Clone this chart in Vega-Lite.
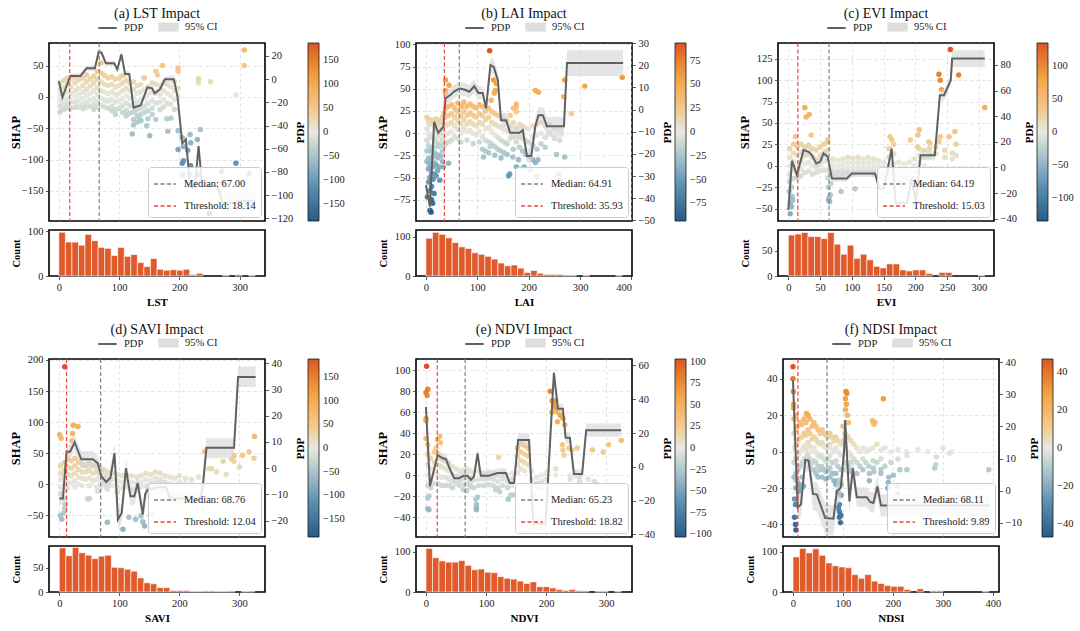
{
"$schema": "https://vega.github.io/schema/vega-lite/v6.json",
"padding": {"left": 8, "top": 6, "right": 5, "bottom": 5},
"config": {
  "font": "Liberation Serif",
  "view": {"stroke": "#000000", "strokeWidth": 1.6},
  "axis": {"labelFont": "Liberation Serif", "titleFont": "Liberation Serif", "labelFontSize": 10.5, "labelColor": "#222222", "titleFontSize": 11, "titleFontWeight": "bold", "titleColor": "#000000", "tickColor": "#333333", "tickSize": 3.5, "tickWidth": 0.8, "labelPadding": 2.5, "domain": false, "grid": false, "gridColor": "#cccccc", "gridDash": [3, 3], "gridWidth": 0.6},
  "axisY": {"minExtent": 27, "maxExtent": 27},
  "title": {"font": "Liberation Serif", "fontSize": 14, "fontWeight": "normal", "color": "#111111", "offset": -5},
  "legend": {"labelFont": "Liberation Serif", "labelFontSize": 10.5, "labelColor": "#222222", "gradientLength": 178, "gradientThickness": 11, "gradientStrokeColor": "#000000", "gradientStrokeWidth": 0.8, "layout": {"top": {"anchor": "middle"}}}
},
"datasets": {
"a_pts": [{"x":2,"s":22},{"x":2,"s":12},{"x":2,"s":4},{"x":2,"s":-6},{"x":2,"s":-15},{"x":2,"s":-24},{"x":8,"s":26},{"x":8,"s":15},{"x":8,"s":5},{"x":8,"s":-4},{"x":8,"s":-12},{"x":8,"s":-20},{"x":14,"s":30},{"x":14,"s":20},{"x":14,"s":8},{"x":14,"s":-3},{"x":14,"s":-11},{"x":14,"s":-18},{"x":20,"s":28},{"x":20,"s":16},{"x":20,"s":6},{"x":20,"s":-8},{"x":20,"s":-18},{"x":27,"s":32},{"x":27,"s":22},{"x":27,"s":10},{"x":27,"s":0},{"x":27,"s":-9},{"x":27,"s":-17},{"x":33,"s":27},{"x":33,"s":14},{"x":33,"s":4},{"x":33,"s":-6},{"x":33,"s":-16},{"x":40,"s":30},{"x":40,"s":18},{"x":40,"s":8},{"x":40,"s":-2},{"x":40,"s":-12},{"x":40,"s":-19},{"x":46,"s":35},{"x":46,"s":24},{"x":46,"s":12},{"x":46,"s":2},{"x":46,"s":-8},{"x":46,"s":-16},{"x":52,"s":29},{"x":52,"s":17},{"x":52,"s":6},{"x":52,"s":-5},{"x":52,"s":-15},{"x":58,"s":33},{"x":58,"s":22},{"x":58,"s":10},{"x":58,"s":-3},{"x":58,"s":-12},{"x":58,"s":-20},{"x":64,"s":40},{"x":64,"s":28},{"x":64,"s":15},{"x":64,"s":4},{"x":64,"s":-8},{"x":64,"s":-17},{"x":70,"s":54},{"x":70,"s":38},{"x":70,"s":24},{"x":70,"s":10},{"x":70,"s":-2},{"x":70,"s":-14},{"x":76,"s":34},{"x":76,"s":20},{"x":76,"s":8},{"x":76,"s":-6},{"x":76,"s":-16},{"x":82,"s":30},{"x":82,"s":18},{"x":82,"s":5},{"x":82,"s":-7},{"x":82,"s":-18},{"x":88,"s":32},{"x":88,"s":20},{"x":88,"s":8},{"x":88,"s":-4},{"x":88,"s":-15},{"x":88,"s":-22},{"x":94,"s":28},{"x":94,"s":15},{"x":94,"s":4},{"x":94,"s":-8},{"x":94,"s":-20},{"x":94,"s":-28},{"x":100,"s":30},{"x":100,"s":18},{"x":100,"s":6},{"x":100,"s":-6},{"x":100,"s":-18},{"x":106,"s":34},{"x":106,"s":22},{"x":106,"s":10},{"x":106,"s":-3},{"x":106,"s":-14},{"x":106,"s":-25},{"x":112,"s":26},{"x":112,"s":14},{"x":112,"s":2},{"x":112,"s":-10},{"x":112,"s":-22},{"x":112,"s":-30},{"x":118,"s":22},{"x":118,"s":10},{"x":118,"s":-2},{"x":118,"s":-14},{"x":118,"s":-26},{"x":124,"s":24},{"x":124,"s":12},{"x":124,"s":0},{"x":124,"s":-12},{"x":124,"s":-24},{"x":124,"s":-36},{"x":124,"s":-45},{"x":130,"s":18},{"x":130,"s":6},{"x":130,"s":-8},{"x":130,"s":-20},{"x":130,"s":-30},{"x":130,"s":-40},{"x":136,"s":20},{"x":136,"s":8},{"x":136,"s":-5},{"x":136,"s":-18},{"x":136,"s":-28},{"x":136,"s":-38},{"x":142,"s":30},{"x":142,"s":12},{"x":142,"s":-2},{"x":142,"s":-15},{"x":142,"s":-25},{"x":148,"s":16},{"x":148,"s":4},{"x":148,"s":-10},{"x":148,"s":-22},{"x":148,"s":-35},{"x":155,"s":22},{"x":155,"s":8},{"x":155,"s":-6},{"x":155,"s":-18},{"x":155,"s":-28},{"x":161,"s":20},{"x":161,"s":6},{"x":161,"s":-10},{"x":168,"s":18},{"x":168,"s":4},{"x":168,"s":-8},{"x":168,"s":-20},{"x":174,"s":22},{"x":174,"s":10},{"x":174,"s":-4},{"x":174,"s":-16},{"x":180,"s":20},{"x":180,"s":6},{"x":180,"s":-10},{"x":186,"s":16},{"x":186,"s":2},{"x":186,"s":-12},{"x":192,"s":24},{"x":192,"s":10},{"x":192,"s":-4},{"x":192,"s":-20},{"x":198,"s":14},{"x":198,"s":0},{"x":151,"s":-62},{"x":146,"s":-46},{"x":161,"s":-36},{"x":179,"s":-35},{"x":181,"s":-55},{"x":198,"s":-54},{"x":205,"s":-65},{"x":207,"s":-79},{"x":218,"s":-60},{"x":235,"s":-52},{"x":230,"s":-68},{"x":219,"s":-73},{"x":214,"s":-85},{"x":198,"s":-84},{"x":205,"s":-106},{"x":207,"s":-102},{"x":206,"s":-124},{"x":218,"s":-124},{"x":230,"s":-124},{"x":219,"s":-110},{"x":270,"s":-119},{"x":272,"s":-137},{"x":294,"s":-106},{"x":316,"s":-122},{"x":186,"s":-34},{"x":131,"s":-31},{"x":136,"s":-37},{"x":125,"s":-23},{"x":122,"s":-59},{"x":161,"s":41},{"x":172,"s":50},{"x":164,"s":35},{"x":198,"s":46},{"x":198,"s":41},{"x":232,"s":29},{"x":232,"s":22},{"x":252,"s":24},{"x":141,"s":30},{"x":308,"s":75},{"x":308,"s":50},{"x":294,"s":3},{"x":250,"s":-186}],
"a_pdp": [{"x":0,"p":-1.8,"lo":-4.5,"hi":1},{"x":6,"p":-15.6,"lo":-18,"hi":-13},{"x":19,"p":2.8,"lo":0.5,"hi":5},{"x":36,"p":2.8,"lo":0.5,"hi":5},{"x":46,"p":9.4,"lo":7,"hi":11.8},{"x":60,"p":9.4,"lo":7,"hi":11.8},{"x":66,"p":23.4,"lo":21,"hi":25.8},{"x":71,"p":22.9,"lo":20.5,"hi":25.3},{"x":78,"p":13.7,"lo":11.3,"hi":16},{"x":92,"p":13.7,"lo":11.3,"hi":16},{"x":97,"p":8.5,"lo":6,"hi":11},{"x":104,"p":21.4,"lo":19,"hi":23.8},{"x":110,"p":4.5,"lo":2,"hi":7},{"x":117,"p":4.5,"lo":2,"hi":7},{"x":124,"p":-24.5,"lo":-27,"hi":-22},{"x":136,"p":-22.5,"lo":-25,"hi":-20},{"x":147,"p":-7,"lo":-9.5,"hi":-4.5},{"x":155,"p":-7.9,"lo":-10.4,"hi":-5.4},{"x":159,"p":-12.2,"lo":-14.7,"hi":-9.7},{"x":168,"p":-8.7,"lo":-11.2,"hi":-6.2},{"x":176,"p":-0.1,"lo":-2.6,"hi":2.4},{"x":191,"p":-0.1,"lo":-3,"hi":3.5},{"x":197,"p":-15,"lo":-18,"hi":-12},{"x":205,"p":-55.3,"lo":-58.5,"hi":-52},{"x":211,"p":-51.9,"lo":-55,"hi":-48.5},{"x":218,"p":-92.7,"lo":-96,"hi":-89.5},{"x":226,"p":-93.5,"lo":-96.5,"hi":-90.5},{"x":232,"p":-57.6,"lo":-61,"hi":-54},{"x":238,"p":-92,"lo":-97,"hi":-85},{"x":263,"p":-92,"lo":-97,"hi":-85},{"x":272,"p":-106.8,"lo":-116,"hi":-97},{"x":294,"p":-106.8,"lo":-116,"hi":-97},{"x":298,"p":-105,"lo":-114,"hi":-97},{"x":326,"p":-105,"lo":-114,"hi":-97}],
"a_ref": [{"x":67.0,"k":"Median: 67.00"},{"x":18.14,"k":"Threshold: 18.14"}],
"a_hist": [{"b0":0,"b1":10.87,"c":98},{"b0":10.87,"b1":21.73,"c":76},{"b0":21.73,"b1":32.6,"c":76},{"b0":32.6,"b1":43.47,"c":69},{"b0":43.47,"b1":54.33,"c":93},{"b0":54.33,"b1":65.2,"c":79},{"b0":65.2,"b1":76.07,"c":64},{"b0":76.07,"b1":86.93,"c":62},{"b0":86.93,"b1":97.8,"c":46},{"b0":97.8,"b1":108.67,"c":64},{"b0":108.67,"b1":119.53,"c":44},{"b0":119.53,"b1":130.4,"c":48},{"b0":130.4,"b1":141.27,"c":30},{"b0":141.27,"b1":152.13,"c":21},{"b0":152.13,"b1":163,"c":39},{"b0":163,"b1":173.87,"c":15},{"b0":173.87,"b1":184.73,"c":13},{"b0":184.73,"b1":195.6,"c":14},{"b0":195.6,"b1":206.47,"c":13},{"b0":206.47,"b1":217.33,"c":15},{"b0":217.33,"b1":228.2,"c":3},{"b0":228.2,"b1":239.07,"c":6},{"b0":271.67,"b1":282.53,"c":2},{"b0":293.4,"b1":304.27,"c":3},{"b0":315.13,"b1":326,"c":1}],
"b_pts": [{"x":2,"s":18},{"x":2,"s":5},{"x":2,"s":-8},{"x":2,"s":-20},{"x":2,"s":-32},{"x":5,"s":14},{"x":5,"s":0},{"x":5,"s":-14},{"x":5,"s":-28},{"x":5,"s":-40},{"x":5,"s":-55},{"x":8,"s":10},{"x":8,"s":-5},{"x":8,"s":-20},{"x":8,"s":-35},{"x":8,"s":-50},{"x":8,"s":-65},{"x":11,"s":15},{"x":11,"s":-2},{"x":11,"s":-18},{"x":11,"s":-30},{"x":11,"s":-45},{"x":11,"s":-60},{"x":11,"s":-75},{"x":14,"s":12},{"x":14,"s":-4},{"x":14,"s":-16},{"x":14,"s":-26},{"x":14,"s":-38},{"x":14,"s":-52},{"x":17,"s":8},{"x":17,"s":-8},{"x":17,"s":-22},{"x":17,"s":-34},{"x":17,"s":-46},{"x":20,"s":16},{"x":20,"s":2},{"x":20,"s":-10},{"x":20,"s":-24},{"x":20,"s":-36},{"x":20,"s":-48},{"x":23,"s":10},{"x":23,"s":-4},{"x":23,"s":-15},{"x":23,"s":-28},{"x":23,"s":-42},{"x":26,"s":14},{"x":26,"s":0},{"x":26,"s":-12},{"x":26,"s":-25},{"x":26,"s":-38},{"x":29,"s":12},{"x":29,"s":-2},{"x":29,"s":-14},{"x":29,"s":-26},{"x":32,"s":18},{"x":32,"s":4},{"x":32,"s":-8},{"x":32,"s":-20},{"x":32,"s":-32},{"x":35,"s":22},{"x":35,"s":10},{"x":35,"s":-2},{"x":35,"s":-14},{"x":38,"s":28},{"x":38,"s":18},{"x":38,"s":8},{"x":38,"s":-2},{"x":38,"s":-12},{"x":44,"s":30},{"x":44,"s":20},{"x":44,"s":10},{"x":44,"s":0},{"x":44,"s":-10},{"x":50,"s":32},{"x":50,"s":22},{"x":50,"s":12},{"x":50,"s":2},{"x":50,"s":-8},{"x":56,"s":28},{"x":56,"s":18},{"x":56,"s":8},{"x":56,"s":-4},{"x":62,"s":34},{"x":62,"s":24},{"x":62,"s":14},{"x":62,"s":4},{"x":62,"s":-6},{"x":68,"s":30},{"x":68,"s":20},{"x":68,"s":10},{"x":68,"s":0},{"x":68,"s":-10},{"x":74,"s":35},{"x":74,"s":25},{"x":74,"s":15},{"x":74,"s":5},{"x":80,"s":30},{"x":80,"s":20},{"x":80,"s":10},{"x":80,"s":2},{"x":80,"s":-8},{"x":86,"s":33},{"x":86,"s":23},{"x":86,"s":13},{"x":86,"s":3},{"x":92,"s":30},{"x":92,"s":20},{"x":92,"s":10},{"x":92,"s":0},{"x":92,"s":-12},{"x":98,"s":28},{"x":98,"s":18},{"x":98,"s":8},{"x":98,"s":-2},{"x":104,"s":32},{"x":104,"s":22},{"x":104,"s":12},{"x":104,"s":2},{"x":104,"s":-10},{"x":110,"s":30},{"x":110,"s":20},{"x":110,"s":10},{"x":110,"s":-4},{"x":110,"s":-18},{"x":116,"s":25},{"x":116,"s":15},{"x":116,"s":5},{"x":116,"s":-8},{"x":116,"s":-20},{"x":122,"s":28},{"x":122,"s":18},{"x":122,"s":6},{"x":122,"s":-10},{"x":122,"s":-22},{"x":128,"s":24},{"x":128,"s":12},{"x":128,"s":2},{"x":128,"s":-12},{"x":134,"s":22},{"x":134,"s":10},{"x":134,"s":-2},{"x":134,"s":-15},{"x":134,"s":-25},{"x":140,"s":20},{"x":140,"s":8},{"x":140,"s":-5},{"x":140,"s":-18},{"x":146,"s":18},{"x":146,"s":6},{"x":146,"s":-8},{"x":146,"s":-20},{"x":146,"s":-28},{"x":152,"s":15},{"x":152,"s":4},{"x":152,"s":-10},{"x":152,"s":-22},{"x":158,"s":14},{"x":158,"s":2},{"x":158,"s":-12},{"x":158,"s":-24},{"x":164,"s":20},{"x":164,"s":8},{"x":164,"s":-6},{"x":170,"s":28},{"x":170,"s":12},{"x":170,"s":-4},{"x":170,"s":-18},{"x":176,"s":24},{"x":176,"s":6},{"x":176,"s":-10},{"x":182,"s":10},{"x":182,"s":-4},{"x":182,"s":-16},{"x":188,"s":8},{"x":188,"s":-6},{"x":188,"s":-20},{"x":194,"s":6},{"x":194,"s":-8},{"x":194,"s":-24},{"x":200,"s":5},{"x":200,"s":-10},{"x":200,"s":-26},{"x":208,"s":8},{"x":208,"s":-4},{"x":208,"s":-14},{"x":216,"s":10},{"x":216,"s":-2},{"x":216,"s":-18},{"x":224,"s":12},{"x":224,"s":0},{"x":224,"s":-12},{"x":232,"s":8},{"x":232,"s":-5},{"x":232,"s":-16},{"x":240,"s":10},{"x":240,"s":0},{"x":250,"s":6},{"x":250,"s":-6},{"x":260,"s":4},{"x":260,"s":-8},{"x":3,"s":-72},{"x":10,"s":-89},{"x":8,"s":-87},{"x":13,"s":-79},{"x":16,"s":-68},{"x":27,"s":-53},{"x":34,"s":-38},{"x":38,"s":60},{"x":38,"s":48},{"x":38,"s":45},{"x":45,"s":54},{"x":70,"s":31},{"x":124,"s":93},{"x":132,"s":60},{"x":135,"s":48},{"x":133,"s":45},{"x":127,"s":37},{"x":137,"s":56},{"x":176,"s":30},{"x":176,"s":33},{"x":213,"s":48},{"x":219,"s":46},{"x":270,"s":60},{"x":268,"s":41},{"x":283,"s":22},{"x":309,"s":53},{"x":382,"s":63},{"x":44,"s":-34},{"x":112,"s":-27},{"x":125,"s":-15},{"x":161,"s":-48},{"x":163,"s":-46},{"x":169,"s":-27},{"x":176,"s":-38},{"x":180,"s":-30},{"x":191,"s":-38},{"x":203,"s":-41},{"x":208,"s":-30},{"x":213,"s":-33},{"x":215,"s":-49},{"x":254,"s":-24},{"x":258,"s":-46},{"x":261,"s":-53},{"x":262,"s":-56},{"x":270,"s":-27},{"x":218,"s":-30}],
"b_pdp": [{"x":0,"p":-34.1,"lo":-37,"hi":-31},{"x":7.8,"p":-43.8,"lo":-46.5,"hi":-41},{"x":16,"p":-5.6,"lo":-8.5,"hi":-2.7},{"x":24,"p":-10.5,"lo":-13,"hi":-8},{"x":34,"p":-7.8,"lo":-10.5,"hi":-5},{"x":38,"p":5,"lo":2,"hi":8},{"x":47.5,"p":6.5,"lo":3.5,"hi":9.5},{"x":54,"p":8,"lo":5,"hi":11},{"x":65,"p":9.5,"lo":6.5,"hi":12.5},{"x":75,"p":9,"lo":6,"hi":12},{"x":84.5,"p":8,"lo":5,"hi":11},{"x":94,"p":10.5,"lo":7.5,"hi":13.5},{"x":102,"p":7.5,"lo":4.5,"hi":10.5},{"x":110.5,"p":7.5,"lo":4.5,"hi":10.5},{"x":117,"p":0.5,"lo":-2.5,"hi":3.5},{"x":125.5,"p":20,"lo":16.5,"hi":23.5},{"x":132,"p":19.2,"lo":15.7,"hi":22.7},{"x":140,"p":13.2,"lo":10,"hi":16.5},{"x":146,"p":-4.8,"lo":-8,"hi":-1.5},{"x":156,"p":-4.8,"lo":-8,"hi":-1.5},{"x":164,"p":-10.5,"lo":-13.5,"hi":-7.5},{"x":182,"p":-10.5,"lo":-13.5,"hi":-7.5},{"x":188.6,"p":-9.3,"lo":-12.5,"hi":-6},{"x":196.4,"p":-21,"lo":-24,"hi":-17.5},{"x":205,"p":-21,"lo":-24,"hi":-17.5},{"x":212.7,"p":-7.8,"lo":-11,"hi":-4},{"x":219,"p":-2.6,"lo":-6,"hi":1},{"x":227.6,"p":-2.6,"lo":-6,"hi":1},{"x":235.4,"p":-7.5,"lo":-12.3,"hi":-3.3},{"x":268.6,"p":-7.5,"lo":-12.3,"hi":-3.3},{"x":274.5,"p":21,"lo":15,"hi":26.7},{"x":383.7,"p":21,"lo":15,"hi":26.7}],
"b_ref": [{"x":64.91,"k":"Median: 64.91"},{"x":35.93,"k":"Threshold: 35.93"}],
"b_hist": [{"b0":0,"b1":12.73,"c":96},{"b0":12.73,"b1":25.47,"c":111},{"b0":25.47,"b1":38.2,"c":106},{"b0":38.2,"b1":50.93,"c":97},{"b0":50.93,"b1":63.67,"c":85},{"b0":63.67,"b1":76.4,"c":74},{"b0":76.4,"b1":89.13,"c":70},{"b0":89.13,"b1":101.87,"c":59},{"b0":101.87,"b1":114.6,"c":55},{"b0":114.6,"b1":127.33,"c":50},{"b0":127.33,"b1":140.07,"c":43},{"b0":140.07,"b1":152.8,"c":33},{"b0":152.8,"b1":165.53,"c":26},{"b0":165.53,"b1":178.27,"c":28},{"b0":178.27,"b1":191,"c":20},{"b0":191,"b1":203.73,"c":9},{"b0":203.73,"b1":216.47,"c":14},{"b0":216.47,"b1":229.2,"c":7},{"b0":229.2,"b1":241.93,"c":4},{"b0":241.93,"b1":254.67,"c":4},{"b0":254.67,"b1":267.4,"c":4},{"b0":267.4,"b1":280.13,"c":1},{"b0":280.13,"b1":292.87,"c":1},{"b0":305.6,"b1":318.33,"c":1},{"b0":369.27,"b1":382,"c":1}],
"c_pts": [{"x":2,"s":20},{"x":2,"s":10},{"x":2,"s":0},{"x":2,"s":-10},{"x":2,"s":-18},{"x":8,"s":25},{"x":8,"s":15},{"x":8,"s":5},{"x":8,"s":-5},{"x":8,"s":-15},{"x":14,"s":22},{"x":14,"s":12},{"x":14,"s":2},{"x":14,"s":-8},{"x":14,"s":-14},{"x":20,"s":25},{"x":20,"s":16},{"x":20,"s":6},{"x":20,"s":-4},{"x":20,"s":-12},{"x":26,"s":22},{"x":26,"s":12},{"x":26,"s":2},{"x":26,"s":-8},{"x":32,"s":24},{"x":32,"s":14},{"x":32,"s":4},{"x":32,"s":-6},{"x":38,"s":20},{"x":38,"s":10},{"x":38,"s":0},{"x":38,"s":-10},{"x":44,"s":18},{"x":44,"s":8},{"x":44,"s":-2},{"x":44,"s":-8},{"x":50,"s":22},{"x":50,"s":12},{"x":50,"s":2},{"x":50,"s":-6},{"x":56,"s":25},{"x":56,"s":15},{"x":56,"s":5},{"x":56,"s":-5},{"x":62,"s":28},{"x":62,"s":18},{"x":62,"s":6},{"x":62,"s":-6},{"x":62,"s":-14},{"x":70,"s":8},{"x":70,"s":2},{"x":70,"s":-4},{"x":70,"s":-10},{"x":78,"s":6},{"x":78,"s":0},{"x":78,"s":-6},{"x":78,"s":-12},{"x":86,"s":8},{"x":86,"s":2},{"x":86,"s":-4},{"x":86,"s":-10},{"x":94,"s":10},{"x":94,"s":4},{"x":94,"s":-2},{"x":94,"s":-8},{"x":102,"s":9},{"x":102,"s":3},{"x":102,"s":-3},{"x":102,"s":-9},{"x":110,"s":10},{"x":110,"s":4},{"x":110,"s":-2},{"x":110,"s":-8},{"x":118,"s":8},{"x":118,"s":2},{"x":118,"s":-4},{"x":126,"s":10},{"x":126,"s":4},{"x":126,"s":-2},{"x":126,"s":-8},{"x":134,"s":8},{"x":134,"s":2},{"x":134,"s":-4},{"x":134,"s":-10},{"x":142,"s":6},{"x":142,"s":0},{"x":142,"s":-6},{"x":142,"s":-12},{"x":150,"s":4},{"x":150,"s":-2},{"x":150,"s":-8},{"x":150,"s":-14},{"x":158,"s":20},{"x":158,"s":10},{"x":158,"s":0},{"x":158,"s":-8},{"x":166,"s":25},{"x":166,"s":14},{"x":166,"s":2},{"x":166,"s":-10},{"x":174,"s":4},{"x":174,"s":-4},{"x":174,"s":-12},{"x":174,"s":-18},{"x":182,"s":2},{"x":182,"s":-6},{"x":182,"s":-14},{"x":182,"s":-20},{"x":190,"s":4},{"x":190,"s":-4},{"x":190,"s":-12},{"x":190,"s":-18},{"x":198,"s":8},{"x":198,"s":0},{"x":198,"s":-8},{"x":198,"s":-16},{"x":206,"s":20},{"x":206,"s":12},{"x":206,"s":4},{"x":206,"s":-6},{"x":214,"s":18},{"x":214,"s":10},{"x":214,"s":0},{"x":222,"s":20},{"x":222,"s":12},{"x":232,"s":22},{"x":232,"s":14},{"x":246,"s":18},{"x":246,"s":10},{"x":258,"s":15},{"x":258,"s":8},{"x":264,"s":25},{"x":264,"s":12},{"x":26,"s":68},{"x":28,"s":57},{"x":33,"s":60},{"x":36,"s":36},{"x":11,"s":34},{"x":11,"s":25},{"x":62,"s":30},{"x":160,"s":34},{"x":163,"s":30},{"x":192,"s":30},{"x":206,"s":42},{"x":204,"s":36},{"x":203,"s":22},{"x":223,"s":26},{"x":221,"s":28},{"x":237,"s":28},{"x":239,"s":34},{"x":253,"s":34},{"x":262,"s":40},{"x":237,"s":107},{"x":239,"s":100},{"x":255,"s":136},{"x":268,"s":106},{"x":241,"s":89},{"x":309,"s":68},{"x":3,"s":-56},{"x":6,"s":-36},{"x":1.5,"s":-30},{"x":5,"s":-25},{"x":7,"s":-40},{"x":3,"s":-44},{"x":63,"s":-25},{"x":64,"s":-38},{"x":63,"s":-40},{"x":66,"s":-34},{"x":83,"s":-30},{"x":105,"s":-27},{"x":67,"s":-21},{"x":5,"s":-48},{"x":65,"s":-42}],
"c_pdp": [{"x":0,"p":-33.2,"lo":-37,"hi":-29.5},{"x":5.8,"p":5.2,"lo":1,"hi":9},{"x":13.6,"p":-6,"lo":-10,"hi":-2},{"x":24,"p":13.5,"lo":9.5,"hi":17.5},{"x":32,"p":12.2,"lo":8.2,"hi":16},{"x":37,"p":9.6,"lo":5.6,"hi":13.5},{"x":44,"p":3.1,"lo":-1,"hi":7},{"x":50,"p":4.4,"lo":0.4,"hi":8.4},{"x":55.4,"p":10.9,"lo":7,"hi":15},{"x":62,"p":8.3,"lo":4.3,"hi":12.3},{"x":68.5,"p":-8.6,"lo":-11,"hi":-2},{"x":92,"p":-8.6,"lo":-11,"hi":-2},{"x":100,"p":-4.7,"lo":-7.5,"hi":-2},{"x":136.4,"p":-4.7,"lo":-7.5,"hi":-2},{"x":143,"p":-16.4,"lo":-19,"hi":-13.5},{"x":150.5,"p":-16.4,"lo":-19,"hi":-13.5},{"x":162.6,"p":14.8,"lo":11.5,"hi":18},{"x":168.8,"p":-27.5,"lo":-30,"hi":-25},{"x":187,"p":-27.5,"lo":-30,"hi":-25},{"x":194,"p":-8.6,"lo":-11.5,"hi":-5.5},{"x":200.7,"p":-27.5,"lo":-30.5,"hi":-24.5},{"x":208,"p":9.6,"lo":5.7,"hi":13},{"x":230.5,"p":9.6,"lo":5.7,"hi":13},{"x":238.4,"p":56.4,"lo":52,"hi":61},{"x":245,"p":56.4,"lo":52,"hi":61},{"x":255.6,"p":68,"lo":64,"hi":72},{"x":257.7,"p":85,"lo":78.4,"hi":91.4},{"x":309,"p":85,"lo":78.4,"hi":91.4}],
"c_ref": [{"x":64.19,"k":"Median: 64.19"},{"x":15.03,"k":"Threshold: 15.03"}],
"c_hist": [{"b0":0,"b1":10.3,"c":81},{"b0":10.3,"b1":20.6,"c":83},{"b0":20.6,"b1":30.9,"c":86},{"b0":30.9,"b1":41.2,"c":78},{"b0":41.2,"b1":51.5,"c":78},{"b0":51.5,"b1":61.8,"c":74},{"b0":61.8,"b1":72.1,"c":86},{"b0":72.1,"b1":82.4,"c":63},{"b0":82.4,"b1":92.7,"c":43},{"b0":92.7,"b1":103,"c":61},{"b0":103,"b1":113.3,"c":35},{"b0":113.3,"b1":123.6,"c":43},{"b0":123.6,"b1":133.9,"c":32},{"b0":133.9,"b1":144.2,"c":19},{"b0":144.2,"b1":154.5,"c":16},{"b0":154.5,"b1":164.8,"c":24},{"b0":164.8,"b1":175.1,"c":24},{"b0":175.1,"b1":185.4,"c":12},{"b0":185.4,"b1":195.7,"c":10},{"b0":195.7,"b1":206,"c":12},{"b0":206,"b1":216.3,"c":12},{"b0":216.3,"b1":226.6,"c":5},{"b0":236.9,"b1":247.2,"c":7},{"b0":247.2,"b1":257.5,"c":7},{"b0":298.7,"b1":309,"c":1}],
"d_pts": [{"x":2,"s":30},{"x":2,"s":18},{"x":2,"s":8},{"x":2,"s":-4},{"x":2,"s":-15},{"x":8,"s":35},{"x":8,"s":22},{"x":8,"s":12},{"x":8,"s":0},{"x":8,"s":-10},{"x":14,"s":40},{"x":14,"s":28},{"x":14,"s":16},{"x":14,"s":4},{"x":14,"s":-6},{"x":20,"s":38},{"x":20,"s":26},{"x":20,"s":14},{"x":20,"s":2},{"x":26,"s":42},{"x":26,"s":30},{"x":26,"s":18},{"x":26,"s":6},{"x":26,"s":-4},{"x":32,"s":36},{"x":32,"s":24},{"x":32,"s":12},{"x":32,"s":0},{"x":38,"s":32},{"x":38,"s":20},{"x":38,"s":10},{"x":38,"s":-2},{"x":44,"s":30},{"x":44,"s":20},{"x":44,"s":8},{"x":50,"s":34},{"x":50,"s":22},{"x":50,"s":10},{"x":50,"s":-2},{"x":56,"s":30},{"x":56,"s":18},{"x":56,"s":6},{"x":62,"s":32},{"x":62,"s":20},{"x":62,"s":8},{"x":62,"s":-4},{"x":68,"s":26},{"x":68,"s":14},{"x":68,"s":4},{"x":68,"s":-6},{"x":74,"s":24},{"x":74,"s":12},{"x":74,"s":2},{"x":80,"s":20},{"x":80,"s":10},{"x":80,"s":0},{"x":80,"s":-8},{"x":88,"s":18},{"x":88,"s":8},{"x":88,"s":-2},{"x":96,"s":16},{"x":96,"s":6},{"x":96,"s":-4},{"x":96,"s":-12},{"x":104,"s":14},{"x":104,"s":4},{"x":104,"s":-6},{"x":112,"s":16},{"x":112,"s":6},{"x":112,"s":-4},{"x":120,"s":14},{"x":120,"s":4},{"x":120,"s":-6},{"x":128,"s":12},{"x":128,"s":2},{"x":128,"s":-8},{"x":136,"s":14},{"x":136,"s":4},{"x":136,"s":-4},{"x":144,"s":18},{"x":144,"s":8},{"x":144,"s":-2},{"x":152,"s":16},{"x":152,"s":6},{"x":152,"s":-4},{"x":160,"s":20},{"x":160,"s":10},{"x":160,"s":0},{"x":168,"s":18},{"x":168,"s":8},{"x":176,"s":14},{"x":176,"s":4},{"x":176,"s":-4},{"x":184,"s":12},{"x":184,"s":2},{"x":192,"s":10},{"x":192,"s":0},{"x":200,"s":14},{"x":200,"s":4},{"x":210,"s":10},{"x":210,"s":2},{"x":220,"s":8},{"x":220,"s":0},{"x":232,"s":12},{"x":262,"s":20},{"x":278,"s":16},{"x":300,"s":28},{"x":9,"s":189},{"x":0.5,"s":80},{"x":3,"s":74},{"x":22,"s":82},{"x":23,"s":95},{"x":31,"s":93},{"x":21,"s":70},{"x":325,"s":77},{"x":316,"s":52},{"x":305,"s":47},{"x":291,"s":46},{"x":287,"s":41},{"x":273,"s":37},{"x":249,"s":25},{"x":254,"s":25},{"x":242,"s":53},{"x":291,"s":37},{"x":324,"s":42},{"x":2,"s":-50},{"x":4,"s":-56},{"x":7,"s":-46},{"x":9,"s":-38},{"x":10,"s":-32},{"x":9,"s":-23},{"x":80,"s":-61},{"x":106,"s":-72},{"x":116,"s":-53},{"x":127,"s":-56},{"x":136,"s":-51},{"x":139,"s":-60},{"x":142,"s":-67},{"x":153,"s":-48},{"x":47,"s":-23},{"x":50,"s":-23},{"x":64,"s":-11}],
"d_pdp": [{"x":0,"p":-11.6,"lo":-14,"hi":-9},{"x":6,"p":-11.6,"lo":-14,"hi":-9},{"x":12,"p":6.3,"lo":3.5,"hi":9},{"x":18,"p":6.3,"lo":3.5,"hi":9},{"x":25.5,"p":9.9,"lo":7,"hi":12.8},{"x":36.5,"p":3.4,"lo":0,"hi":6.5},{"x":56,"p":3.4,"lo":0,"hi":6.5},{"x":64,"p":1.9,"lo":-1.5,"hi":5},{"x":70,"p":-3.2,"lo":-6.5,"hi":0},{"x":78,"p":-5.3,"lo":-8.5,"hi":-2},{"x":85,"p":-3.8,"lo":-7,"hi":-0.5},{"x":92,"p":5.7,"lo":2,"hi":9.5},{"x":97.6,"p":-19.6,"lo":-23,"hi":-16},{"x":104,"p":-17,"lo":-20.5,"hi":-13.5},{"x":111,"p":0,"lo":-3.5,"hi":3.5},{"x":118.4,"p":-10.7,"lo":-14,"hi":-7.5},{"x":125,"p":-10.7,"lo":-14,"hi":-7.5},{"x":130.6,"p":-5.7,"lo":-9,"hi":-2.5},{"x":139,"p":-17.7,"lo":-21,"hi":-14.5},{"x":143,"p":-10,"lo":-13,"hi":-7},{"x":147,"p":-8.2,"lo":-11,"hi":-5.5},{"x":164,"p":-7.3,"lo":-10,"hi":-4.5},{"x":177.6,"p":-7.3,"lo":-10,"hi":-4.5},{"x":184,"p":-11.6,"lo":-14,"hi":-9.2},{"x":233,"p":-11.6,"lo":-14,"hi":-9.2},{"x":238.5,"p":-8.2,"lo":-11.5,"hi":-5},{"x":245,"p":7.8,"lo":3.8,"hi":11.4},{"x":291,"p":7.8,"lo":3.8,"hi":11.4},{"x":297.7,"p":34.8,"lo":31,"hi":38.8},{"x":327,"p":34.8,"lo":31,"hi":38.8}],
"d_ref": [{"x":68.76,"k":"Median: 68.76"},{"x":12.04,"k":"Threshold: 12.04"}],
"d_hist": [{"b0":0,"b1":10.83,"c":91},{"b0":10.83,"b1":21.67,"c":75},{"b0":21.67,"b1":32.5,"c":92},{"b0":32.5,"b1":43.33,"c":81},{"b0":43.33,"b1":54.17,"c":76},{"b0":54.17,"b1":65,"c":69},{"b0":65,"b1":75.83,"c":74},{"b0":75.83,"b1":86.67,"c":76},{"b0":86.67,"b1":97.5,"c":51},{"b0":97.5,"b1":108.33,"c":50},{"b0":108.33,"b1":119.17,"c":47},{"b0":119.17,"b1":130,"c":43},{"b0":130,"b1":140.83,"c":29},{"b0":140.83,"b1":151.67,"c":19},{"b0":151.67,"b1":162.5,"c":17},{"b0":162.5,"b1":173.33,"c":9},{"b0":173.33,"b1":184.17,"c":9},{"b0":184.17,"b1":195,"c":3},{"b0":195,"b1":205.83,"c":3},{"b0":205.83,"b1":216.67,"c":3},{"b0":216.67,"b1":227.5,"c":1},{"b0":227.5,"b1":238.33,"c":1},{"b0":238.33,"b1":249.17,"c":2},{"b0":249.17,"b1":260,"c":2},{"b0":260,"b1":270.83,"c":1},{"b0":270.83,"b1":281.67,"c":1},{"b0":281.67,"b1":292.5,"c":2},{"b0":303.33,"b1":314.17,"c":1},{"b0":314.17,"b1":325,"c":2}],
"e_pts": [{"x":3,"s":20},{"x":3,"s":10},{"x":3,"s":0},{"x":3,"s":-10},{"x":8,"s":16},{"x":8,"s":6},{"x":8,"s":-4},{"x":8,"s":-12},{"x":14,"s":22},{"x":14,"s":12},{"x":14,"s":2},{"x":14,"s":-8},{"x":20,"s":20},{"x":20,"s":10},{"x":20,"s":0},{"x":20,"s":-8},{"x":26,"s":16},{"x":26,"s":8},{"x":26,"s":-2},{"x":26,"s":-10},{"x":32,"s":14},{"x":32,"s":6},{"x":32,"s":-2},{"x":32,"s":-10},{"x":38,"s":12},{"x":38,"s":4},{"x":38,"s":-4},{"x":38,"s":-10},{"x":44,"s":8},{"x":44,"s":0},{"x":44,"s":-6},{"x":44,"s":-12},{"x":50,"s":6},{"x":50,"s":-2},{"x":50,"s":-8},{"x":56,"s":4},{"x":56,"s":-4},{"x":56,"s":-10},{"x":62,"s":5},{"x":62,"s":-3},{"x":62,"s":-9},{"x":62,"s":-14},{"x":68,"s":6},{"x":68,"s":-2},{"x":68,"s":-8},{"x":74,"s":4},{"x":74,"s":-4},{"x":74,"s":-10},{"x":80,"s":3},{"x":80,"s":-5},{"x":80,"s":-12},{"x":88,"s":4},{"x":88,"s":-4},{"x":88,"s":-10},{"x":96,"s":2},{"x":96,"s":-4},{"x":96,"s":-10},{"x":104,"s":3},{"x":104,"s":-3},{"x":104,"s":-9},{"x":112,"s":2},{"x":112,"s":-4},{"x":112,"s":-10},{"x":120,"s":0},{"x":120,"s":-6},{"x":120,"s":-12},{"x":128,"s":2},{"x":128,"s":-4},{"x":128,"s":-10},{"x":136,"s":0},{"x":136,"s":-6},{"x":136,"s":-12},{"x":144,"s":2},{"x":144,"s":-4},{"x":152,"s":26},{"x":152,"s":18},{"x":152,"s":10},{"x":152,"s":2},{"x":158,"s":30},{"x":158,"s":22},{"x":158,"s":14},{"x":158,"s":6},{"x":164,"s":28},{"x":164,"s":20},{"x":164,"s":12},{"x":164,"s":4},{"x":170,"s":26},{"x":170,"s":18},{"x":170,"s":10},{"x":176,"s":4},{"x":176,"s":-4},{"x":176,"s":-10},{"x":184,"s":-2},{"x":184,"s":-8},{"x":192,"s":0},{"x":192,"s":-6},{"x":192,"s":-12},{"x":200,"s":2},{"x":200,"s":-4},{"x":216,"s":6},{"x":216,"s":0},{"x":240,"s":0},{"x":240,"s":-4},{"x":256,"s":-2},{"x":256,"s":-6},{"x":270,"s":-4},{"x":280,"s":-6},{"x":121,"s":17},{"x":1,"s":104},{"x":0,"s":79},{"x":3,"s":82},{"x":2,"s":76},{"x":0,"s":54},{"x":0,"s":52},{"x":19,"s":34},{"x":24,"s":31},{"x":23,"s":37},{"x":17,"s":26},{"x":0,"s":35},{"x":3,"s":29},{"x":207,"s":80},{"x":210,"s":71},{"x":216,"s":71},{"x":213,"s":67},{"x":216,"s":64},{"x":210,"s":60},{"x":220,"s":60},{"x":224,"s":57},{"x":228,"s":54},{"x":219,"s":51},{"x":231,"s":48},{"x":227,"s":29},{"x":228,"s":24},{"x":230,"s":19},{"x":243,"s":24},{"x":238,"s":26},{"x":252,"s":26},{"x":277,"s":24},{"x":295,"s":22},{"x":304,"s":29},{"x":325,"s":33},{"x":5,"s":-33},{"x":3,"s":-32},{"x":3,"s":-22},{"x":5,"s":-20},{"x":84,"s":-31},{"x":84,"s":-28},{"x":84,"s":-33},{"x":86,"s":-21},{"x":83,"s":-23},{"x":137,"s":-23},{"x":141,"s":-19},{"x":147,"s":-19},{"x":174,"s":-22},{"x":180,"s":-19},{"x":300,"s":-23},{"x":285,"s":-9},{"x":58,"s":-9},{"x":68,"s":-15},{"x":74,"s":-11},{"x":116,"s":-14},{"x":123,"s":-16},{"x":185,"s":-12}],
"e_pdp": [{"x":0,"p":35.4,"lo":31,"hi":40},{"x":6.6,"p":-11.5,"lo":-15,"hi":-8},{"x":19.4,"p":7,"lo":4,"hi":10},{"x":27.7,"p":5.1,"lo":2,"hi":8},{"x":33,"p":4.7,"lo":1.7,"hi":7.7},{"x":40.4,"p":-1.8,"lo":-4.5,"hi":1},{"x":47,"p":-6.7,"lo":-9.5,"hi":-4},{"x":55,"p":-6.7,"lo":-9.5,"hi":-4},{"x":62.5,"p":-5.3,"lo":-8,"hi":-2.5},{"x":69,"p":-5.3,"lo":-8,"hi":-2.5},{"x":74.7,"p":-7.6,"lo":-10.5,"hi":-5},{"x":80,"p":-5.7,"lo":-8.5,"hi":-3},{"x":85.8,"p":8,"lo":4.5,"hi":11.5},{"x":91.3,"p":-5.3,"lo":-8,"hi":-2.5},{"x":105,"p":-5.3,"lo":-8,"hi":-2.5},{"x":119,"p":-3.7,"lo":-6.5,"hi":-1},{"x":133,"p":-3.7,"lo":-6.5,"hi":-1},{"x":139.5,"p":-9.6,"lo":-12.5,"hi":-6.5},{"x":146.7,"p":-9.6,"lo":-12.5,"hi":-6.5},{"x":153.3,"p":15.9,"lo":12,"hi":19.8},{"x":171.6,"p":15.9,"lo":12,"hi":19.8},{"x":178.7,"p":-33.7,"lo":-38,"hi":-30},{"x":199.2,"p":-33.7,"lo":-38,"hi":-30},{"x":204.8,"p":3.1,"lo":-1,"hi":7},{"x":213,"p":55.6,"lo":51,"hi":60},{"x":219.7,"p":34.4,"lo":31.5,"hi":37.4},{"x":228,"p":34.4,"lo":31.5,"hi":37.4},{"x":232.4,"p":17.2,"lo":14,"hi":20.5},{"x":239.6,"p":17.2,"lo":14,"hi":20.5},{"x":246.3,"p":-4.3,"lo":-7,"hi":-1.5},{"x":260,"p":-4.3,"lo":-7,"hi":-1.5},{"x":266.7,"p":21.7,"lo":17.8,"hi":25.6},{"x":325,"p":21.7,"lo":17.8,"hi":25.6}],
"e_ref": [{"x":65.23,"k":"Median: 65.23"},{"x":18.82,"k":"Threshold: 18.82"}],
"e_hist": [{"b0":0,"b1":10.83,"c":108},{"b0":10.83,"b1":21.67,"c":85},{"b0":21.67,"b1":32.5,"c":77},{"b0":32.5,"b1":43.33,"c":74},{"b0":43.33,"b1":54.17,"c":74},{"b0":54.17,"b1":65,"c":78},{"b0":65,"b1":75.83,"c":66},{"b0":75.83,"b1":86.67,"c":55},{"b0":86.67,"b1":97.5,"c":57},{"b0":97.5,"b1":108.33,"c":49},{"b0":108.33,"b1":119.17,"c":48},{"b0":119.17,"b1":130,"c":38},{"b0":130,"b1":140.83,"c":34},{"b0":140.83,"b1":151.67,"c":32},{"b0":151.67,"b1":162.5,"c":27},{"b0":162.5,"b1":173.33,"c":21},{"b0":173.33,"b1":184.17,"c":25},{"b0":184.17,"b1":195,"c":13},{"b0":195,"b1":205.83,"c":13},{"b0":205.83,"b1":216.67,"c":10},{"b0":216.67,"b1":227.5,"c":6},{"b0":227.5,"b1":238.33,"c":4},{"b0":238.33,"b1":249.17,"c":6},{"b0":249.17,"b1":260,"c":3},{"b0":260,"b1":270.83,"c":3},{"b0":281.67,"b1":292.5,"c":1},{"b0":292.5,"b1":303.33,"c":1},{"b0":314.17,"b1":325,"c":1}],
"f_pts": [{"x":2,"s":18},{"x":2,"s":10},{"x":2,"s":2},{"x":2,"s":-6},{"x":2,"s":-14},{"x":6,"s":20},{"x":6,"s":12},{"x":6,"s":4},{"x":6,"s":-4},{"x":6,"s":-12},{"x":6,"s":-20},{"x":10,"s":14},{"x":10,"s":6},{"x":10,"s":-2},{"x":10,"s":-10},{"x":14,"s":16},{"x":14,"s":8},{"x":14,"s":0},{"x":14,"s":-8},{"x":14,"s":-18},{"x":18,"s":15},{"x":18,"s":8},{"x":18,"s":1},{"x":18,"s":-6},{"x":18,"s":-14},{"x":22,"s":18},{"x":22,"s":10},{"x":22,"s":3},{"x":22,"s":-4},{"x":26,"s":16},{"x":26,"s":9},{"x":26,"s":2},{"x":26,"s":-5},{"x":30,"s":20},{"x":30,"s":12},{"x":30,"s":5},{"x":30,"s":-2},{"x":34,"s":18},{"x":34,"s":10},{"x":34,"s":3},{"x":34,"s":-4},{"x":34,"s":-8},{"x":38,"s":14},{"x":38,"s":7},{"x":38,"s":0},{"x":38,"s":-6},{"x":42,"s":16},{"x":42,"s":8},{"x":42,"s":2},{"x":42,"s":-5},{"x":42,"s":-10},{"x":46,"s":14},{"x":46,"s":7},{"x":46,"s":0},{"x":46,"s":-6},{"x":46,"s":-12},{"x":50,"s":12},{"x":50,"s":5},{"x":50,"s":-2},{"x":50,"s":-8},{"x":50,"s":-14},{"x":54,"s":10},{"x":54,"s":4},{"x":54,"s":-3},{"x":54,"s":-10},{"x":58,"s":12},{"x":58,"s":5},{"x":58,"s":-2},{"x":58,"s":-8},{"x":58,"s":-14},{"x":62,"s":10},{"x":62,"s":3},{"x":62,"s":-4},{"x":62,"s":-10},{"x":66,"s":9},{"x":66,"s":2},{"x":66,"s":-5},{"x":66,"s":-11},{"x":66,"s":-15},{"x":70,"s":8},{"x":70,"s":2},{"x":70,"s":-4},{"x":70,"s":-10},{"x":74,"s":10},{"x":74,"s":4},{"x":74,"s":-2},{"x":74,"s":-9},{"x":74,"s":-14},{"x":78,"s":8},{"x":78,"s":1},{"x":78,"s":-6},{"x":78,"s":-12},{"x":82,"s":6},{"x":82,"s":0},{"x":82,"s":-6},{"x":82,"s":-12},{"x":82,"s":-16},{"x":86,"s":8},{"x":86,"s":2},{"x":86,"s":-5},{"x":86,"s":-12},{"x":86,"s":-18},{"x":90,"s":6},{"x":90,"s":0},{"x":90,"s":-8},{"x":90,"s":-16},{"x":90,"s":-22},{"x":96,"s":4},{"x":96,"s":-2},{"x":96,"s":-10},{"x":96,"s":-18},{"x":96,"s":-24},{"x":100,"s":14},{"x":100,"s":6},{"x":100,"s":-2},{"x":100,"s":-10},{"x":104,"s":10},{"x":104,"s":2},{"x":104,"s":-6},{"x":110,"s":8},{"x":110,"s":0},{"x":110,"s":-8},{"x":116,"s":6},{"x":116,"s":-2},{"x":116,"s":-10},{"x":122,"s":4},{"x":122,"s":-4},{"x":128,"s":2},{"x":128,"s":-6},{"x":128,"s":-12},{"x":134,"s":0},{"x":134,"s":-8},{"x":140,"s":2},{"x":140,"s":-4},{"x":140,"s":-10},{"x":146,"s":0},{"x":146,"s":-6},{"x":152,"s":1},{"x":152,"s":-8},{"x":160,"s":2},{"x":160,"s":-5},{"x":168,"s":4},{"x":168,"s":-6},{"x":176,"s":1},{"x":176,"s":-4},{"x":184,"s":2},{"x":184,"s":-8},{"x":196,"s":0},{"x":196,"s":-6},{"x":210,"s":1},{"x":210,"s":-4},{"x":228,"s":0},{"x":228,"s":-2},{"x":250,"s":1},{"x":270,"s":0},{"x":300,"s":2},{"x":318,"s":0},{"x":0,"s":46.6},{"x":0,"s":40},{"x":0.7,"s":33},{"x":1.3,"s":26},{"x":1.3,"s":24},{"x":30,"s":20},{"x":27,"s":21},{"x":106,"s":33},{"x":108,"s":32},{"x":105,"s":29},{"x":107,"s":26},{"x":105,"s":23},{"x":109,"s":20},{"x":111,"s":16},{"x":181,"s":29},{"x":159,"s":17},{"x":162,"s":15},{"x":164,"s":16},{"x":5,"s":-40},{"x":6,"s":-43},{"x":3,"s":-36},{"x":5,"s":-29},{"x":3,"s":-26},{"x":11,"s":-22},{"x":16,"s":-20},{"x":21,"s":-19},{"x":8,"s":-16},{"x":93,"s":-29},{"x":93,"s":-33},{"x":93,"s":-36},{"x":95,"s":-39},{"x":91,"s":-31},{"x":96,"s":-35},{"x":153,"s":-12},{"x":153,"s":-16},{"x":162,"s":-11},{"x":176,"s":-10},{"x":176,"s":-12},{"x":191,"s":-17},{"x":190,"s":-20},{"x":209,"s":-19},{"x":210,"s":-23},{"x":192,"s":-14},{"x":201,"s":-13},{"x":214,"s":-10},{"x":228,"s":-10},{"x":284,"s":-9},{"x":286,"s":-7},{"x":392,"s":-10},{"x":112,"s":-11},{"x":116,"s":-6},{"x":161,"s":-9},{"x":287,"s":-3},{"x":313,"s":-1}],
"f_pdp": [{"x":0,"p":34.3,"lo":31,"hi":37.5},{"x":9.3,"p":-5.2,"lo":-9,"hi":-1.5},{"x":16,"p":-4.3,"lo":-8,"hi":-0.5},{"x":24.6,"p":9.6,"lo":6,"hi":13},{"x":31.3,"p":9.4,"lo":6,"hi":13},{"x":40,"p":-1,"lo":-6,"hi":3},{"x":48,"p":-1.2,"lo":-6.5,"hi":2.5},{"x":64.5,"p":-8.5,"lo":-13.5,"hi":-4},{"x":81,"p":-8.7,"lo":-14,"hi":-4.5},{"x":87.8,"p":-0.2,"lo":-4.5,"hi":3.5},{"x":95.8,"p":1,"lo":-3,"hi":5},{"x":102.5,"p":12.7,"lo":8.5,"hi":17},{"x":104.5,"p":22,"lo":18,"hi":26},{"x":113,"p":-3.3,"lo":-7,"hi":0.5},{"x":119.8,"p":7,"lo":3.5,"hi":10.5},{"x":127.7,"p":-2,"lo":-5,"hi":1},{"x":147.7,"p":-2,"lo":-5,"hi":1},{"x":154.4,"p":-3.5,"lo":-6.5,"hi":-0.5},{"x":161,"p":-3.8,"lo":-7,"hi":-0.5},{"x":169,"p":1.3,"lo":-2,"hi":4.5},{"x":176.3,"p":-4.6,"lo":-8,"hi":-1.2},{"x":394,"p":-4.6,"lo":-8,"hi":-1.2}],
"f_ref": [{"x":68.11,"k":"Median: 68.11"},{"x":9.89,"k":"Threshold: 9.89"}],
"f_hist": [{"b0":0,"b1":13.07,"c":87},{"b0":13.07,"b1":26.13,"c":108},{"b0":26.13,"b1":39.2,"c":97},{"b0":39.2,"b1":52.27,"c":107},{"b0":52.27,"b1":65.33,"c":91},{"b0":65.33,"b1":78.4,"c":72},{"b0":78.4,"b1":91.47,"c":65},{"b0":91.47,"b1":104.53,"c":62},{"b0":104.53,"b1":117.6,"c":60},{"b0":117.6,"b1":130.67,"c":43},{"b0":130.67,"b1":143.73,"c":34},{"b0":143.73,"b1":156.8,"c":43},{"b0":156.8,"b1":169.87,"c":27},{"b0":169.87,"b1":182.93,"c":21},{"b0":182.93,"b1":196,"c":16},{"b0":196,"b1":209.07,"c":14},{"b0":209.07,"b1":222.13,"c":14},{"b0":222.13,"b1":235.2,"c":6},{"b0":248.27,"b1":261.33,"c":8},{"b0":274.4,"b1":287.47,"c":3},{"b0":287.47,"b1":300.53,"c":3},{"b0":378.93,"b1":392,"c":1}]
},
"vconcat": [
{"hconcat": [
{"vconcat": [
 {"title": "(a) LST Impact", "width": 216, "height": 178,
  "encoding": {"x": {"field": "x", "type": "quantitative", "scale": {"domain": [-16.3, 342.3], "nice": false, "zero": false}, "axis": {"values": [0, 100, 200, 300], "labels": false, "ticks": false, "title": null, "grid": true}}},
  "layer": [
   {"data": {"name": "a_pts"}, "mark": {"type": "circle", "size": 30, "opacity": 0.9},
    "encoding": {"y": {"field": "s", "type": "quantitative", "scale": {"domain": [-198, 86], "nice": false, "zero": false}, "axis": {"values": [-150, -100, -50, 0, 50], "title": "SHAP", "grid": true, "titleFontSize": 12.5, "titlePadding": 0}},
     "color": {"field": "s", "type": "quantitative", "scale": {"domain": [-186, -111.6, -46.5, 0, 46.5, 111.6, 186], "range": ["#114a79", "#4b86aa", "#a6c1cc", "#e6e6e3", "#f6c27f", "#f29b2f", "#d8420f"]}, "legend": {"title": null, "orient": "right", "offset": 3, "labelOffset": 4, "values": [-150, -100, -50, 0, 50, 100, 150]}}}},
   {"data": {"name": "a_pdp"}, "mark": {"type": "area", "color": "#d4d4d4", "opacity": 0.6},
    "encoding": {"y": {"field": "lo", "type": "quantitative", "scale": {"domain": [-122.3, 31.2], "nice": false, "zero": false}, "axis": null}, "y2": {"field": "hi"}}},
   {"data": {"name": "a_pdp"}, "mark": {"type": "line", "strokeWidth": 2},
    "encoding": {"y": {"field": "p", "type": "quantitative", "scale": {"domain": [-122.3, 31.2], "nice": false, "zero": false}, "axis": {"orient": "right", "values": [-120, -100, -80, -60, -40, -20, 0, 20], "title": "PDP", "titleAngle": 270, "titleBaseline": "top", "titlePadding": 2}},
     "stroke": {"datum": "PDP", "type": "nominal", "scale": {"domain": ["PDP", "95% CI"], "range": ["#616161", "#dedede"]}, "legend": {"orient": "top", "title": null, "direction": "horizontal", "values": ["PDP", "95% CI"], "symbolType": "stroke", "symbolSize": 340, "symbolStrokeWidth": 2, "symbolOpacity": 1, "offset": 8, "columnPadding": 11, "labelOffset": 6, "encode": {"symbols": {"update": {"shape": {"signal": "datum.value === 'PDP' ? 'stroke' : 'M-1,-0.38H1V0.38H-1Z'"}, "fill": {"signal": "datum.value === 'PDP' ? 'transparent' : '#dedede'"}}}}}}}},
   {"data": {"name": "a_ref"}, "mark": {"type": "rule", "strokeDash": [4, 2.5], "strokeWidth": 1.2},
    "encoding": {"color": {"field": "k", "type": "nominal", "scale": {"domain": ["Median: 67.00", "Threshold: 18.14"], "range": ["#7f7f7f", "#e8463e"]}, "legend": {"orient": "bottom-right", "title": null, "symbolType": "stroke", "symbolSize": 480, "symbolStrokeWidth": 1.3, "symbolDash": [4, 2.5], "fillColor": "rgba(255,255,255,0.85)", "strokeColor": "#cccccc", "padding": 5, "cornerRadius": 3, "offset": 4, "labelFontSize": 10.5, "labelOffset": 7, "rowPadding": 4}}}}
  ],
  "resolve": {"scale": {"y": "independent", "color": "independent"}, "legend": {"color": "independent"}}},
 {"data": {"name": "a_hist"}, "width": 216, "height": 46, "mark": {"type": "bar", "color": "#e15a2b", "stroke": "#ffffff", "strokeWidth": 0.6},
  "encoding": {"x": {"field": "b0", "type": "quantitative", "scale": {"domain": [-16.3, 342.3], "nice": false, "zero": false}, "axis": {"values": [0, 100, 200, 300], "title": "LST", "titlePadding": 4}}, "x2": {"field": "b1"},
   "y": {"field": "c", "type": "quantitative", "scale": {"domain": [0, 103], "nice": false}, "axis": {"values": [0, 100], "title": "Count", "titleFontSize": 10.5, "titlePadding": 1}}, "y2": {"datum": 0}}}
], "spacing": 9, "bounds": "flush", "resolve": {"scale": {"x": "independent", "y": "independent", "color": "independent", "stroke": "independent"}, "legend": {"color": "independent", "stroke": "independent"}}},
{"vconcat": [
 {"title": "(b) LAI Impact", "width": 216, "height": 178,
  "encoding": {"x": {"field": "x", "type": "quantitative", "scale": {"domain": [-19.3, 401], "nice": false, "zero": false}, "axis": {"values": [0, 100, 200, 300, 400], "labels": false, "ticks": false, "title": null, "grid": true}}},
  "layer": [
   {"data": {"name": "b_pts"}, "mark": {"type": "circle", "size": 30, "opacity": 0.9},
    "encoding": {"y": {"field": "s", "type": "quantitative", "scale": {"domain": [-99, 101.6], "nice": false, "zero": false}, "axis": {"values": [-75, -50, -25, 0, 25, 50, 75, 100], "title": "SHAP", "grid": true, "titleFontSize": 12.5, "titlePadding": 0}},
     "color": {"field": "s", "type": "quantitative", "scale": {"domain": [-93.5, -56.1, -23.4, 0, 23.4, 56.1, 93.5], "range": ["#114a79", "#4b86aa", "#a6c1cc", "#e6e6e3", "#f6c27f", "#f29b2f", "#d8420f"]}, "legend": {"title": null, "orient": "right", "offset": 3, "labelOffset": 4, "values": [-75, -50, -25, 0, 25, 50, 75], "labelExpr": "datum.label + '\u2002'"}}}},
   {"data": {"name": "b_pdp"}, "mark": {"type": "area", "color": "#d4d4d4", "opacity": 0.6},
    "encoding": {"y": {"field": "lo", "type": "quantitative", "scale": {"domain": [-50.3, 30], "nice": false, "zero": false}, "axis": null}, "y2": {"field": "hi"}}},
   {"data": {"name": "b_pdp"}, "mark": {"type": "line", "strokeWidth": 2},
    "encoding": {"y": {"field": "p", "type": "quantitative", "scale": {"domain": [-50.3, 30], "nice": false, "zero": false}, "axis": {"orient": "right", "values": [-50, -40, -30, -20, -10, 0, 10, 20, 30], "title": "PDP", "titleAngle": 270, "titleBaseline": "top", "titlePadding": 2}},
     "stroke": {"datum": "PDP", "type": "nominal", "scale": {"domain": ["PDP", "95% CI"], "range": ["#616161", "#dedede"]}, "legend": {"orient": "top", "title": null, "direction": "horizontal", "values": ["PDP", "95% CI"], "symbolType": "stroke", "symbolSize": 340, "symbolStrokeWidth": 2, "symbolOpacity": 1, "offset": 8, "columnPadding": 11, "labelOffset": 6, "encode": {"symbols": {"update": {"shape": {"signal": "datum.value === 'PDP' ? 'stroke' : 'M-1,-0.38H1V0.38H-1Z'"}, "fill": {"signal": "datum.value === 'PDP' ? 'transparent' : '#dedede'"}}}}}}}},
   {"data": {"name": "b_ref"}, "mark": {"type": "rule", "strokeDash": [4, 2.5], "strokeWidth": 1.2},
    "encoding": {"color": {"field": "k", "type": "nominal", "scale": {"domain": ["Median: 64.91", "Threshold: 35.93"], "range": ["#7f7f7f", "#e8463e"]}, "legend": {"orient": "bottom-right", "title": null, "symbolType": "stroke", "symbolSize": 480, "symbolStrokeWidth": 1.3, "symbolDash": [4, 2.5], "fillColor": "rgba(255,255,255,0.85)", "strokeColor": "#cccccc", "padding": 5, "cornerRadius": 3, "offset": 4, "labelFontSize": 10.5, "labelOffset": 7, "rowPadding": 4}}}}
  ],
  "resolve": {"scale": {"y": "independent", "color": "independent"}, "legend": {"color": "independent"}}},
 {"data": {"name": "b_hist"}, "width": 216, "height": 46, "mark": {"type": "bar", "color": "#e15a2b", "stroke": "#ffffff", "strokeWidth": 0.6},
  "encoding": {"x": {"field": "b0", "type": "quantitative", "scale": {"domain": [-19.3, 401], "nice": false, "zero": false}, "axis": {"values": [0, 100, 200, 300, 400], "title": "LAI", "titlePadding": 4}}, "x2": {"field": "b1"},
   "y": {"field": "c", "type": "quantitative", "scale": {"domain": [0, 117], "nice": false}, "axis": {"values": [0, 100], "title": "Count", "titleFontSize": 10.5, "titlePadding": 1}}, "y2": {"datum": 0}}}
], "spacing": 9, "bounds": "flush", "resolve": {"scale": {"x": "independent", "y": "independent", "color": "independent", "stroke": "independent"}, "legend": {"color": "independent", "stroke": "independent"}}},
{"vconcat": [
 {"title": "(c) EVI Impact", "width": 216, "height": 178,
  "encoding": {"x": {"field": "x", "type": "quantitative", "scale": {"domain": [-16.2, 323.6], "nice": false, "zero": false}, "axis": {"values": [0, 50, 100, 150, 200, 250, 300], "labels": false, "ticks": false, "title": null, "grid": true}}},
  "layer": [
   {"data": {"name": "c_pts"}, "mark": {"type": "circle", "size": 30, "opacity": 0.9},
    "encoding": {"y": {"field": "s", "type": "quantitative", "scale": {"domain": [-64.6, 143.5], "nice": false, "zero": false}, "axis": {"values": [-50, -25, 0, 25, 50, 75, 100, 125], "title": "SHAP", "grid": true, "titleFontSize": 12.5, "titlePadding": 0}},
     "color": {"field": "s", "type": "quantitative", "scale": {"domain": [-135, -81, -33.75, 0, 33.75, 81, 135], "range": ["#114a79", "#4b86aa", "#a6c1cc", "#e6e6e3", "#f6c27f", "#f29b2f", "#d8420f"]}, "legend": {"title": null, "orient": "right", "offset": 3, "labelOffset": 4, "values": [-100, -50, 0, 50, 100]}}}},
   {"data": {"name": "c_pdp"}, "mark": {"type": "area", "color": "#d4d4d4", "opacity": 0.6},
    "encoding": {"y": {"field": "lo", "type": "quantitative", "scale": {"domain": [-41.8, 97.1], "nice": false, "zero": false}, "axis": null}, "y2": {"field": "hi"}}},
   {"data": {"name": "c_pdp"}, "mark": {"type": "line", "strokeWidth": 2},
    "encoding": {"y": {"field": "p", "type": "quantitative", "scale": {"domain": [-41.8, 97.1], "nice": false, "zero": false}, "axis": {"orient": "right", "values": [-40, -20, 0, 20, 40, 60, 80], "title": "PDP", "titleAngle": 270, "titleBaseline": "top", "titlePadding": 2}},
     "stroke": {"datum": "PDP", "type": "nominal", "scale": {"domain": ["PDP", "95% CI"], "range": ["#616161", "#dedede"]}, "legend": {"orient": "top", "title": null, "direction": "horizontal", "values": ["PDP", "95% CI"], "symbolType": "stroke", "symbolSize": 340, "symbolStrokeWidth": 2, "symbolOpacity": 1, "offset": 8, "columnPadding": 11, "labelOffset": 6, "encode": {"symbols": {"update": {"shape": {"signal": "datum.value === 'PDP' ? 'stroke' : 'M-1,-0.38H1V0.38H-1Z'"}, "fill": {"signal": "datum.value === 'PDP' ? 'transparent' : '#dedede'"}}}}}}}},
   {"data": {"name": "c_ref"}, "mark": {"type": "rule", "strokeDash": [4, 2.5], "strokeWidth": 1.2},
    "encoding": {"color": {"field": "k", "type": "nominal", "scale": {"domain": ["Median: 64.19", "Threshold: 15.03"], "range": ["#7f7f7f", "#e8463e"]}, "legend": {"orient": "bottom-right", "title": null, "symbolType": "stroke", "symbolSize": 480, "symbolStrokeWidth": 1.3, "symbolDash": [4, 2.5], "fillColor": "rgba(255,255,255,0.85)", "strokeColor": "#cccccc", "padding": 5, "cornerRadius": 3, "offset": 4, "labelFontSize": 10.5, "labelOffset": 7, "rowPadding": 4}}}}
  ],
  "resolve": {"scale": {"y": "independent", "color": "independent"}, "legend": {"color": "independent"}}},
 {"data": {"name": "c_hist"}, "width": 216, "height": 46, "mark": {"type": "bar", "color": "#e15a2b", "stroke": "#ffffff", "strokeWidth": 0.6},
  "encoding": {"x": {"field": "b0", "type": "quantitative", "scale": {"domain": [-16.2, 323.6], "nice": false, "zero": false}, "axis": {"values": [0, 50, 100, 150, 200, 250, 300], "title": "EVI", "titlePadding": 4}}, "x2": {"field": "b1"},
   "y": {"field": "c", "type": "quantitative", "scale": {"domain": [0, 91], "nice": false}, "axis": {"values": [0, 50], "title": "Count", "titleFontSize": 10.5, "titlePadding": 1}}, "y2": {"datum": 0}}}
], "spacing": 9, "bounds": "flush", "resolve": {"scale": {"x": "independent", "y": "independent", "color": "independent", "stroke": "independent"}, "legend": {"color": "independent", "stroke": "independent"}}}
], "spacing": 29, "resolve": {"scale": {"x": "independent", "y": "independent", "color": "independent", "stroke": "independent"}, "legend": {"color": "independent", "stroke": "independent"}}},
{"hconcat": [
{"vconcat": [
 {"title": "(d) SAVI Impact", "width": 216, "height": 178,
  "encoding": {"x": {"field": "x", "type": "quantitative", "scale": {"domain": [-17.2, 342.6], "nice": false, "zero": false}, "axis": {"values": [0, 100, 200, 300], "labels": false, "ticks": false, "title": null, "grid": true}}},
  "layer": [
   {"data": {"name": "d_pts"}, "mark": {"type": "circle", "size": 30, "opacity": 0.9},
    "encoding": {"y": {"field": "s", "type": "quantitative", "scale": {"domain": [-84.6, 201.6], "nice": false, "zero": false}, "axis": {"values": [-50, 0, 50, 100, 150, 200], "title": "SHAP", "grid": true, "titleFontSize": 12.5, "titlePadding": 0}},
     "color": {"field": "s", "type": "quantitative", "scale": {"domain": [-188, -112.8, -47, 0, 47, 112.8, 188], "range": ["#114a79", "#4b86aa", "#a6c1cc", "#e6e6e3", "#f6c27f", "#f29b2f", "#d8420f"]}, "legend": {"title": null, "orient": "right", "offset": 3, "labelOffset": 4, "values": [-150, -100, -50, 0, 50, 100, 150]}}}},
   {"data": {"name": "d_pdp"}, "mark": {"type": "area", "color": "#d4d4d4", "opacity": 0.6},
    "encoding": {"y": {"field": "lo", "type": "quantitative", "scale": {"domain": [-26.3, 41.7], "nice": false, "zero": false}, "axis": null}, "y2": {"field": "hi"}}},
   {"data": {"name": "d_pdp"}, "mark": {"type": "line", "strokeWidth": 2},
    "encoding": {"y": {"field": "p", "type": "quantitative", "scale": {"domain": [-26.3, 41.7], "nice": false, "zero": false}, "axis": {"orient": "right", "values": [-20, -10, 0, 10, 20, 30, 40], "title": "PDP", "titleAngle": 270, "titleBaseline": "top", "titlePadding": 2}},
     "stroke": {"datum": "PDP", "type": "nominal", "scale": {"domain": ["PDP", "95% CI"], "range": ["#616161", "#dedede"]}, "legend": {"orient": "top", "title": null, "direction": "horizontal", "values": ["PDP", "95% CI"], "symbolType": "stroke", "symbolSize": 340, "symbolStrokeWidth": 2, "symbolOpacity": 1, "offset": 8, "columnPadding": 11, "labelOffset": 6, "encode": {"symbols": {"update": {"shape": {"signal": "datum.value === 'PDP' ? 'stroke' : 'M-1,-0.38H1V0.38H-1Z'"}, "fill": {"signal": "datum.value === 'PDP' ? 'transparent' : '#dedede'"}}}}}}}},
   {"data": {"name": "d_ref"}, "mark": {"type": "rule", "strokeDash": [4, 2.5], "strokeWidth": 1.2},
    "encoding": {"color": {"field": "k", "type": "nominal", "scale": {"domain": ["Median: 68.76", "Threshold: 12.04"], "range": ["#7f7f7f", "#e8463e"]}, "legend": {"orient": "bottom-right", "title": null, "symbolType": "stroke", "symbolSize": 480, "symbolStrokeWidth": 1.3, "symbolDash": [4, 2.5], "fillColor": "rgba(255,255,255,0.85)", "strokeColor": "#cccccc", "padding": 5, "cornerRadius": 3, "offset": 4, "labelFontSize": 10.5, "labelOffset": 7, "rowPadding": 4}}}}
  ],
  "resolve": {"scale": {"y": "independent", "color": "independent"}, "legend": {"color": "independent"}}},
 {"data": {"name": "d_hist"}, "width": 216, "height": 46, "mark": {"type": "bar", "color": "#e15a2b", "stroke": "#ffffff", "strokeWidth": 0.6},
  "encoding": {"x": {"field": "b0", "type": "quantitative", "scale": {"domain": [-17.2, 342.6], "nice": false, "zero": false}, "axis": {"values": [0, 100, 200, 300], "title": "SAVI", "titlePadding": 4}}, "x2": {"field": "b1"},
   "y": {"field": "c", "type": "quantitative", "scale": {"domain": [0, 95], "nice": false}, "axis": {"values": [0, 50], "title": "Count", "titleFontSize": 10.5, "titlePadding": 1}}, "y2": {"datum": 0}}}
], "spacing": 9, "bounds": "flush", "resolve": {"scale": {"x": "independent", "y": "independent", "color": "independent", "stroke": "independent"}, "legend": {"color": "independent", "stroke": "independent"}}},
{"vconcat": [
 {"title": "(e) NDVI Impact", "width": 216, "height": 178,
  "encoding": {"x": {"field": "x", "type": "quantitative", "scale": {"domain": [-16.6, 343], "nice": false, "zero": false}, "axis": {"values": [0, 100, 200, 300], "labels": false, "ticks": false, "title": null, "grid": true}}},
  "layer": [
   {"data": {"name": "e_pts"}, "mark": {"type": "circle", "size": 30, "opacity": 0.9},
    "encoding": {"y": {"field": "s", "type": "quantitative", "scale": {"domain": [-59.1, 110.9], "nice": false, "zero": false}, "axis": {"values": [-40, -20, 0, 20, 40, 60, 80, 100], "title": "SHAP", "grid": true, "titleFontSize": 12.5, "titlePadding": 0}},
     "color": {"field": "s", "type": "quantitative", "scale": {"domain": [-103, -61.8, -25.75, 0, 25.75, 61.8, 103], "range": ["#114a79", "#4b86aa", "#a6c1cc", "#e6e6e3", "#f6c27f", "#f29b2f", "#d8420f"]}, "legend": {"title": null, "orient": "right", "offset": 3, "labelOffset": 4, "values": [-100, -75, -50, -25, 0, 25, 50, 75, 100]}}}},
   {"data": {"name": "e_pdp"}, "mark": {"type": "area", "color": "#d4d4d4", "opacity": 0.6},
    "encoding": {"y": {"field": "lo", "type": "quantitative", "scale": {"domain": [-41.5, 63.8], "nice": false, "zero": false}, "axis": null}, "y2": {"field": "hi"}}},
   {"data": {"name": "e_pdp"}, "mark": {"type": "line", "strokeWidth": 2},
    "encoding": {"y": {"field": "p", "type": "quantitative", "scale": {"domain": [-41.5, 63.8], "nice": false, "zero": false}, "axis": {"orient": "right", "values": [-40, -20, 0, 20, 40, 60], "title": "PDP", "titleAngle": 270, "titleBaseline": "top", "titlePadding": 2}},
     "stroke": {"datum": "PDP", "type": "nominal", "scale": {"domain": ["PDP", "95% CI"], "range": ["#616161", "#dedede"]}, "legend": {"orient": "top", "title": null, "direction": "horizontal", "values": ["PDP", "95% CI"], "symbolType": "stroke", "symbolSize": 340, "symbolStrokeWidth": 2, "symbolOpacity": 1, "offset": 8, "columnPadding": 11, "labelOffset": 6, "encode": {"symbols": {"update": {"shape": {"signal": "datum.value === 'PDP' ? 'stroke' : 'M-1,-0.38H1V0.38H-1Z'"}, "fill": {"signal": "datum.value === 'PDP' ? 'transparent' : '#dedede'"}}}}}}}},
   {"data": {"name": "e_ref"}, "mark": {"type": "rule", "strokeDash": [4, 2.5], "strokeWidth": 1.2},
    "encoding": {"color": {"field": "k", "type": "nominal", "scale": {"domain": ["Median: 65.23", "Threshold: 18.82"], "range": ["#7f7f7f", "#e8463e"]}, "legend": {"orient": "bottom-right", "title": null, "symbolType": "stroke", "symbolSize": 480, "symbolStrokeWidth": 1.3, "symbolDash": [4, 2.5], "fillColor": "rgba(255,255,255,0.85)", "strokeColor": "#cccccc", "padding": 5, "cornerRadius": 3, "offset": 4, "labelFontSize": 10.5, "labelOffset": 7, "rowPadding": 4}}}}
  ],
  "resolve": {"scale": {"y": "independent", "color": "independent"}, "legend": {"color": "independent"}}},
 {"data": {"name": "e_hist"}, "width": 216, "height": 46, "mark": {"type": "bar", "color": "#e15a2b", "stroke": "#ffffff", "strokeWidth": 0.6},
  "encoding": {"x": {"field": "b0", "type": "quantitative", "scale": {"domain": [-16.6, 343], "nice": false, "zero": false}, "axis": {"values": [0, 100, 200, 300], "title": "NDVI", "titlePadding": 4}}, "x2": {"field": "b1"},
   "y": {"field": "c", "type": "quantitative", "scale": {"domain": [0, 114], "nice": false}, "axis": {"values": [0, 100], "title": "Count", "titleFontSize": 10.5, "titlePadding": 1}}, "y2": {"datum": 0}}}
], "spacing": 9, "bounds": "flush", "resolve": {"scale": {"x": "independent", "y": "independent", "color": "independent", "stroke": "independent"}, "legend": {"color": "independent", "stroke": "independent"}}},
{"vconcat": [
 {"title": "(f) NDSI Impact", "width": 216, "height": 178,
  "encoding": {"x": {"field": "x", "type": "quantitative", "scale": {"domain": [-20, 412.5], "nice": false, "zero": false}, "axis": {"values": [0, 100, 200, 300, 400], "labels": false, "ticks": false, "title": null, "grid": true}}},
  "layer": [
   {"data": {"name": "f_pts"}, "mark": {"type": "circle", "size": 30, "opacity": 0.9},
    "encoding": {"y": {"field": "s", "type": "quantitative", "scale": {"domain": [-46.9, 50.9], "nice": false, "zero": false}, "axis": {"values": [-40, -20, 0, 20, 40], "title": "SHAP", "grid": true, "titleFontSize": 12.5, "titlePadding": 0}},
     "color": {"field": "s", "type": "quantitative", "scale": {"domain": [-46.6, -27.96, -11.65, 0, 11.65, 27.96, 46.6], "range": ["#114a79", "#4b86aa", "#a6c1cc", "#e6e6e3", "#f6c27f", "#f29b2f", "#d8420f"]}, "legend": {"title": null, "orient": "right", "offset": 3, "labelOffset": 4, "values": [-40, -20, 0, 20, 40], "labelExpr": "datum.label + '\u2002'"}}}},
   {"data": {"name": "f_pdp"}, "mark": {"type": "area", "color": "#d4d4d4", "opacity": 0.6},
    "encoding": {"y": {"field": "lo", "type": "quantitative", "scale": {"domain": [-14.4, 41], "nice": false, "zero": false}, "axis": null}, "y2": {"field": "hi"}}},
   {"data": {"name": "f_pdp"}, "mark": {"type": "line", "strokeWidth": 2},
    "encoding": {"y": {"field": "p", "type": "quantitative", "scale": {"domain": [-14.4, 41], "nice": false, "zero": false}, "axis": {"orient": "right", "values": [-10, 0, 10, 20, 30, 40], "title": "PDP", "titleAngle": 270, "titleBaseline": "top", "titlePadding": 2}},
     "stroke": {"datum": "PDP", "type": "nominal", "scale": {"domain": ["PDP", "95% CI"], "range": ["#616161", "#dedede"]}, "legend": {"orient": "top", "title": null, "direction": "horizontal", "values": ["PDP", "95% CI"], "symbolType": "stroke", "symbolSize": 340, "symbolStrokeWidth": 2, "symbolOpacity": 1, "offset": 8, "columnPadding": 11, "labelOffset": 6, "encode": {"symbols": {"update": {"shape": {"signal": "datum.value === 'PDP' ? 'stroke' : 'M-1,-0.38H1V0.38H-1Z'"}, "fill": {"signal": "datum.value === 'PDP' ? 'transparent' : '#dedede'"}}}}}}}},
   {"data": {"name": "f_ref"}, "mark": {"type": "rule", "strokeDash": [4, 2.5], "strokeWidth": 1.2},
    "encoding": {"color": {"field": "k", "type": "nominal", "scale": {"domain": ["Median: 68.11", "Threshold: 9.89"], "range": ["#7f7f7f", "#e8463e"]}, "legend": {"orient": "bottom-right", "title": null, "symbolType": "stroke", "symbolSize": 480, "symbolStrokeWidth": 1.3, "symbolDash": [4, 2.5], "fillColor": "rgba(255,255,255,0.85)", "strokeColor": "#cccccc", "padding": 5, "cornerRadius": 3, "offset": 4, "labelFontSize": 10.5, "labelOffset": 7, "rowPadding": 4}}}}
  ],
  "resolve": {"scale": {"y": "independent", "color": "independent"}, "legend": {"color": "independent"}}},
 {"data": {"name": "f_hist"}, "width": 216, "height": 46, "mark": {"type": "bar", "color": "#e15a2b", "stroke": "#ffffff", "strokeWidth": 0.6},
  "encoding": {"x": {"field": "b0", "type": "quantitative", "scale": {"domain": [-20, 412.5], "nice": false, "zero": false}, "axis": {"values": [0, 100, 200, 300, 400], "title": "NDSI", "titlePadding": 4}}, "x2": {"field": "b1"},
   "y": {"field": "c", "type": "quantitative", "scale": {"domain": [0, 114], "nice": false}, "axis": {"values": [0, 100], "title": "Count", "titleFontSize": 10.5, "titlePadding": 1}}, "y2": {"datum": 0}}}
], "spacing": 9, "bounds": "flush", "resolve": {"scale": {"x": "independent", "y": "independent", "color": "independent", "stroke": "independent"}, "legend": {"color": "independent", "stroke": "independent"}}}
], "spacing": 29, "resolve": {"scale": {"x": "independent", "y": "independent", "color": "independent", "stroke": "independent"}, "legend": {"color": "independent", "stroke": "independent"}}}
],
"spacing": 13,
"resolve": {"scale": {"x": "independent", "y": "independent", "color": "independent", "stroke": "independent"}, "legend": {"color": "independent", "stroke": "independent"}}
}
